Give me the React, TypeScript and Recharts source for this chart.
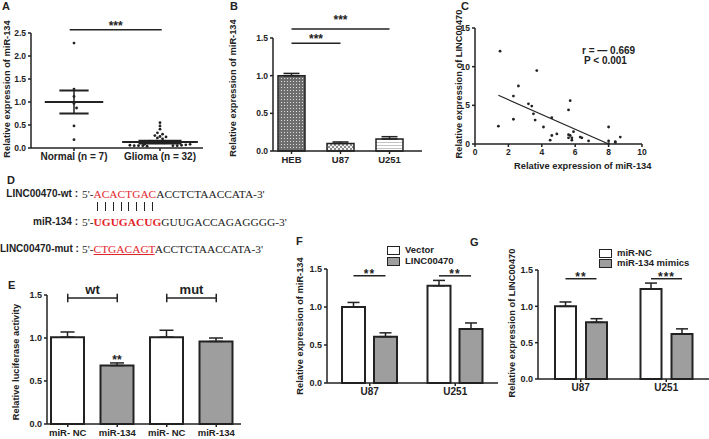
import React from 'react';
import {
  Bar,
  BarChart,
  Cell,
  ErrorBar,
  LabelList,
  ReferenceLine,
  Scatter,
  ScatterChart,
  XAxis,
  YAxis,
} from 'recharts';

const SANS = '"Liberation Sans", Arial, sans-serif';
const SERIF = '"Liberation Serif", "Times New Roman", serif';
const INK = '#222';
const GRAY = '#9e9e9e';
const RED = '#e2252b';

// A: miR-134 in tissue
const aGroups = ['Normal (n = 7)', 'Glioma (n = 32)'];
const aNormal = [
  { x: 0.5, y: 2.28 }, { x: 0.5, y: 1.28 }, { x: 0.5, y: 1.12 }, { x: 0.5, y: 0.97 },
  { x: 0.53, y: 0.87 }, { x: 0.5, y: 0.48 }, { x: 0.5, y: 0.18 },
];
const aGlioma = [
  { x: 1.5, y: 0.55 }, { x: 1.5, y: 0.48 }, { x: 1.5, y: 0.41 }, { x: 1.47, y: 0.33 },
  { x: 1.53, y: 0.3 }, { x: 1.44, y: 0.27 }, { x: 1.5, y: 0.25 }, { x: 1.57, y: 0.24 },
  { x: 1.47, y: 0.22 }, { x: 1.53, y: 0.2 },
  { x: 1.38, y: 0.15 }, { x: 1.42, y: 0.14 }, { x: 1.46, y: 0.15 }, { x: 1.5, y: 0.14 },
  { x: 1.54, y: 0.15 }, { x: 1.58, y: 0.14 }, { x: 1.62, y: 0.13 }, { x: 1.4, y: 0.12 },
  { x: 1.45, y: 0.11 }, { x: 1.55, y: 0.11 }, { x: 1.6, y: 0.12 },
  { x: 1.15, y: 0.06 }, { x: 1.2, y: 0.05 }, { x: 1.25, y: 0.05 }, { x: 1.3, y: 0.05 },
  { x: 1.35, y: 0.04 }, { x: 1.65, y: 0.05 }, { x: 1.7, y: 0.05 }, { x: 1.75, y: 0.06 },
  { x: 1.8, y: 0.07 }, { x: 1.85, y: 0.08 }, { x: 1.32, y: 0.08 },
];
const aMean = [1.0, 0.13];
const aSem = [0.25, 0.03];

// B: cell lines
const bCells = ['HEB', 'U87', 'U251'];
const bMean = [1.0, 0.1, 0.16];
const bSem = [0.03, 0.02, 0.03];

// C: correlation
const cMir = [1.5, 3.7, 2.6, 2.3, 3.2, 3.4, 5.7, 5.6, 3.5, 2.3, 3.6, 4.6, 1.4, 4.1, 8.0, 5.9,
  4.9, 4.6, 5.6, 5.7, 5.8, 5.6, 4.5, 5.8, 6.3, 6.4, 6.8, 8.0, 8.4, 8.4, 8.7, 8.0];
const cLinc = [12.0, 9.5, 7.5, 6.2, 5.2, 4.9, 5.6, 4.4, 3.9, 3.2, 3.1, 3.4, 2.3, 2.2, 2.2, 1.6,
  1.3, 1.1, 1.2, 1.1, 0.8, 0.8, 0.5, 0.5, 0.9, 0.8, 0.4, 0.4, 0.2, 0.3, 0.9, 0.05];
const cFitX = [1.4, 8.0];
const cFitY = [6.3, 0.0];

// D: sequences
const wtSeed = 'ACACTGAC';
const wtRest = 'ACCTCTAACCATA-3\'';
const mirSeed = 'UGUGACUG';
const mirRest = 'GUUGACCAGAGGGG-3\'';
const mutSeed = 'CTGACAGT';
const mutRest = 'ACCTCTAACCATA-3\'';

// E: luciferase
const eKeys = ['wt-NC', 'wt-134', 'mut-NC', 'mut-134'];
const eTicks = ['miR- NC', 'miR-134', 'miR- NC', 'miR-134'];
const eMean = [1.01, 0.68, 1.01, 0.96];
const eSem = [0.06, 0.03, 0.08, 0.04];
const eStars = ['', '**', '', ''];
const eFill = ['#fff', GRAY, '#fff', GRAY];

// F: LINC00470 overexpression
const fCells = ['U87', 'U251'];
const fVector = [1.0, 1.28];
const fVectorSem = [0.06, 0.07];
const fLinc = [0.61, 0.71];
const fLincSem = [0.05, 0.08];
const fStars = ['**', '**'];

// G: miR-134 mimics
const gCells = ['U87', 'U251'];
const gNC = [1.0, 1.24];
const gNCSem = [0.06, 0.08];
const gMimic = [0.78, 0.62];
const gMimicSem = [0.05, 0.07];
const gStars = ['**', '***'];

const axisStyle = { stroke: INK, strokeWidth: 1.5 };
const tickFont = (size: number) => ({ fill: INK, fontSize: size, fontWeight: 700, fontFamily: SANS });
const fmt1 = (v: number) => v.toFixed(1);

const dot = (p: any) => <circle cx={p.cx} cy={p.cy} r={1.4} fill={INK} />;

function Txt({ x, y, size = 10, bold = true, children, style }: any) {
  return (
    <div
      style={{
        position: 'absolute', left: x, top: y - size * 0.6, fontSize: size, lineHeight: 1.2,
        fontWeight: bold ? 700 : 400, fontFamily: SANS, color: INK, whiteSpace: 'pre', ...style,
      }}
    >
      {children}
    </div>
  );
}

function VLabel({ cx, cy, size = 9.3, children }: any) {
  return (
    <div
      style={{
        position: 'absolute', left: cx, top: cy, transform: 'translate(-50%, -50%) rotate(-90deg)',
        fontSize: size, fontWeight: 700, fontFamily: SANS, color: INK, whiteSpace: 'nowrap', lineHeight: 1,
      }}
    >
      {children}
    </div>
  );
}

function Box({ x, y, children }: any) {
  return <div style={{ position: 'absolute', left: x, top: y }}>{children}</div>;
}

function sigPair(stars: string[], level: number, gap: number) {
  return (p: any) => {
    const vb = p.viewBox && p.viewBox.width != null ? p.viewBox : p;
    const { x, y, width, height } = vb;
    const value = Number(p.value);
    if (!value || !stars[p.index]) return null;
    const ppu = height / value;
    const yy = y + height - level * ppu;
    const x1 = x + width / 2;
    const x2 = x1 + width + gap;
    return (
      <g key={`sig-${p.index}`}>
        <line x1={x1} x2={x2} y1={yy} y2={yy} stroke={INK} strokeWidth={1.5} />
        <text x={(x1 + x2) / 2} y={yy + 2} textAnchor="middle" fontSize={12} fontWeight={700}
          fontFamily={SANS} fill={INK} letterSpacing={1}>
          {stars[p.index]}
        </text>
      </g>
    );
  };
}

function PanelA() {
  const meanHalf = [0.34, 0.44];
  const semHalf = [0.17, 0.25];
  const centers = [0.5, 1.5];
  return (
    <ScatterChart width={215} height={175} margin={{ top: 33, right: 12, bottom: 7, left: 11 }}>
      <XAxis type="number" dataKey="x" domain={[0, 2]} ticks={centers} interval={0}
        tickFormatter={(v) => aGroups[Math.floor(v)]} height={20} axisLine={axisStyle}
        tickLine={axisStyle} tickSize={3} tick={tickFont(10)} />
      <YAxis type="number" dataKey="y" domain={[0, 2.5]} ticks={[0, 0.5, 1, 1.5, 2, 2.5]}
        tickFormatter={fmt1} width={20} axisLine={axisStyle} tickLine={axisStyle} tickSize={3}
        tick={tickFont(8.5)} />
      {centers.map((c, i) => (
        <ReferenceLine key={`m${i}`} ifOverflow="visible" stroke={INK} strokeWidth={2}
          segment={[{ x: c - meanHalf[i], y: aMean[i] }, { x: c + meanHalf[i], y: aMean[i] }]} />
      ))}
      {centers.map((c, i) => (
        <ReferenceLine key={`hi${i}`} ifOverflow="visible" stroke={INK} strokeWidth={2}
          segment={[{ x: c - semHalf[i], y: aMean[i] + aSem[i] }, { x: c + semHalf[i], y: aMean[i] + aSem[i] }]} />
      ))}
      {centers.map((c, i) => (
        <ReferenceLine key={`lo${i}`} ifOverflow="visible" stroke={INK} strokeWidth={2}
          segment={[{ x: c - semHalf[i], y: aMean[i] - aSem[i] }, { x: c + semHalf[i], y: aMean[i] - aSem[i] }]} />
      ))}
      {centers.map((c, i) => (
        <ReferenceLine key={`v${i}`} ifOverflow="visible" stroke={INK} strokeWidth={1.5}
          segment={[{ x: c, y: aMean[i] - aSem[i] }, { x: c, y: aMean[i] + aSem[i] }]} />
      ))}
      <ReferenceLine ifOverflow="visible" stroke={INK} strokeWidth={1.5}
        segment={[{ x: 0.45, y: 2.57 }, { x: 1.52, y: 2.57 }]}
        label={{ value: '***', position: 'top', offset: 0, fill: INK, fontSize: 12, fontWeight: 700, fontFamily: SANS }} />
      <Scatter data={aNormal} shape={dot} isAnimationActive={false} />
      <Scatter data={aGlioma} shape={dot} isAnimationActive={false} />
    </ScatterChart>
  );
}

function PanelB() {
  const data = bCells.map((c, i) => ({ cell: c, v: bMean[i], e: [0, bSem[i]] }));
  const fills = ['url(#pHEB)', 'url(#pU87)', 'url(#pU251)'];
  const starLabel = (offset: number) => ({
    value: '***', position: 'top' as const, offset, fill: INK, fontSize: 12, fontWeight: 700, fontFamily: SANS,
  });
  return (
    <BarChart width={200} height={175} data={data} margin={{ top: 38, right: 8, bottom: 4, left: 18 }}>
      <defs>
        <pattern id="pHEB" width="3" height="3" patternUnits="userSpaceOnUse">
          <rect width="3" height="3" fill="#6e6e6e" />
          <rect width="1" height="1" fill="#dcdcdc" />
        </pattern>
        <pattern id="pU87" width="4" height="4" patternUnits="userSpaceOnUse">
          <rect width="4" height="4" fill="#f2f2f2" />
          <rect width="2" height="2" fill="#8c8c8c" />
          <rect x="2" y="2" width="2" height="2" fill="#8c8c8c" />
        </pattern>
        <pattern id="pU251" width="4" height="3" patternUnits="userSpaceOnUse">
          <rect width="4" height="3" fill="#fff" />
          <rect y="1" width="4" height="1" fill="#c4c4c4" />
        </pattern>
      </defs>
      <XAxis dataKey="cell" height={20} padding={{ left: -6, right: 8 }} axisLine={axisStyle}
        tickLine={axisStyle} tickSize={3} tick={tickFont(9.5)} />
      <YAxis domain={[0, 1.5]} ticks={[0, 0.5, 1, 1.5]} tickFormatter={fmt1} width={25}
        axisLine={axisStyle} tickLine={axisStyle} tickSize={3} tick={tickFont(8.5)} />
      <ReferenceLine ifOverflow="visible" stroke={INK} strokeWidth={1.5}
        segment={[{ x: 'HEB', y: 1.43 }, { x: 'U87', y: 1.43 }]} label={starLabel(0)} />
      <ReferenceLine ifOverflow="visible" stroke={INK} strokeWidth={1.5}
        segment={[{ x: 'HEB', y: 1.62 }, { x: 'U251', y: 1.62 }]} label={starLabel(5)} />
      <Bar dataKey="v" barSize={27} stroke={INK} strokeWidth={1.5} isAnimationActive={false}>
        {data.map((d, i) => <Cell key={d.cell} fill={fills[i]} />)}
        <ErrorBar dataKey="e" width={8} stroke={INK} strokeWidth={1.5} direction="y" />
      </Bar>
    </BarChart>
  );
}

function PanelC() {
  const pts = cMir.map((x, i) => ({ x, y: cLinc[i] }));
  return (
    <ScatterChart width={200} height={178} margin={{ top: 28, right: 18, bottom: 14, left: 2 }}>
      <XAxis type="number" dataKey="x" domain={[0, 10]} ticks={[0, 2, 4, 6, 8, 10]} interval={0}
        height={20} axisLine={axisStyle} tickLine={axisStyle} tickSize={3} tick={tickFont(8.5)} />
      <YAxis type="number" dataKey="y" domain={[0, 15]} ticks={[0, 5, 10, 15]} width={13}
        axisLine={axisStyle} tickLine={axisStyle} tickSize={3} tick={tickFont(8.5)} />
      <ReferenceLine ifOverflow="visible" stroke={INK} strokeWidth={1.2}
        segment={[{ x: cFitX[0], y: cFitY[0] }, { x: cFitX[1], y: cFitY[1] }]} />
      <Scatter data={pts} shape={dot} isAnimationActive={false} />
    </ScatterChart>
  );
}

function Sequence({ x, y, seed, rest, seedStyle }: any) {
  return (
    <div style={{ position: 'absolute', left: x, top: y, fontFamily: SERIF, fontSize: 11.4, lineHeight: '12px', color: INK, whiteSpace: 'pre' }}>
      {'5\'-'}
      <span style={{ color: RED, ...seedStyle }}>{seed}</span>
      {rest}
    </div>
  );
}

function PairMarks({ x, y, seed }: any) {
  // one short stroke under each paired base, aligned to the letters of the seed
  return (
    <div style={{ position: 'absolute', left: x, top: y, fontFamily: SERIF, fontSize: 11.4, lineHeight: '10px', color: 'transparent', whiteSpace: 'pre' }}>
      <span aria-hidden>{'5\'-'}</span>
      {seed.split('').map((ch: string, i: number) => (
        <span key={i} aria-hidden style={{ position: 'relative', display: 'inline-block' }}>
          {ch}
          <span style={{ position: 'absolute', left: '50%', top: 0, width: 1.2, height: 9, marginLeft: -0.6, background: INK }} />
        </span>
      ))}
    </div>
  );
}

function PanelD() {
  const lbl = { position: 'absolute' as const, left: 0, width: 78, textAlign: 'right' as const, fontFamily: SANS, fontWeight: 700, fontSize: 10, lineHeight: '12px', color: INK, whiteSpace: 'pre' as const };
  return (
    <>
      <div style={{ ...lbl, top: 188 }}>LINC00470-wt :</div>
      <Sequence x={82} y={188} seed={wtSeed} rest={wtRest} />
      <PairMarks x={82} y={202} seed={wtSeed} />
      <div style={{ ...lbl, top: 216 }}>miR-134 :</div>
      <Sequence x={82} y={216} seed={mirSeed} rest={mirRest} seedStyle={{ fontWeight: 700 }} />
      <div style={{ ...lbl, top: 243 }}>LINC00470-mut :</div>
      <Sequence x={82} y={243} seed={mutSeed} rest={mutRest} seedStyle={{ textDecoration: 'underline' }} />
    </>
  );
}

function PanelE() {
  const data = eKeys.map((k, i) => ({ k, v: eMean[i], e: [0, eSem[i]], star: eStars[i] }));
  const brLabel = (value: string) => ({ value, position: 'top' as const, offset: 4, fill: INK, fontSize: 13, fontWeight: 700, fontFamily: SANS });
  const bracket = (a: string, b: string, text: string) => [
    <ReferenceLine key={`${a}h`} ifOverflow="visible" stroke={INK} strokeWidth={1.5}
      segment={[{ x: a, y: 1.465 }, { x: b, y: 1.465 }]} label={brLabel(text)} />,
    <ReferenceLine key={`${a}l`} ifOverflow="visible" stroke={INK} strokeWidth={1.5}
      segment={[{ x: a, y: 1.415 }, { x: a, y: 1.515 }]} />,
    <ReferenceLine key={`${a}r`} ifOverflow="visible" stroke={INK} strokeWidth={1.5}
      segment={[{ x: b, y: 1.415 }, { x: b, y: 1.515 }]} />,
  ];
  return (
    <BarChart width={250} height={159} data={data} margin={{ top: 15, right: 9, bottom: 0, left: 25 }}>
      <XAxis dataKey="k" height={15} padding={{ left: -4, right: 0 }} interval={0}
        tickFormatter={(_v, i) => eTicks[i]} axisLine={axisStyle} tickLine={axisStyle} tickSize={3}
        tick={tickFont(9.5)} />
      <YAxis domain={[0, 1.5]} ticks={[0, 0.5, 1, 1.5]} tickFormatter={fmt1} width={22}
        axisLine={axisStyle} tickLine={axisStyle} tickSize={3} tick={tickFont(9)} />
      {bracket('wt-NC', 'wt-134', 'wt')}
      {bracket('mut-NC', 'mut-134', 'mut')}
      <Bar dataKey="v" barSize={33} stroke={INK} strokeWidth={2} isAnimationActive={false}>
        {data.map((d, i) => <Cell key={d.k} fill={eFill[i]} />)}
        <ErrorBar dataKey="e" width={7} stroke={INK} strokeWidth={1.5} direction="y" />
        <LabelList dataKey="star" position="top" offset={2} fill={INK} fontSize={12} fontWeight={700} fontFamily={SANS} />
      </Bar>
    </BarChart>
  );
}

function PairChart({ width, height, margin, cells, a, aSem, b, bSem, stars, level, size, gap, xh }: any) {
  const data = cells.map((c: string, i: number) => ({ c, a: a[i], ae: [0, aSem[i]], b: b[i], be: [0, bSem[i]] }));
  return (
    <BarChart width={width} height={height} data={data} margin={margin} barGap={gap}>
      <XAxis dataKey="c" height={xh} axisLine={axisStyle} tickLine={axisStyle} tickSize={3} tick={tickFont(10)} />
      <YAxis domain={[0, 1.5]} ticks={[0, 0.5, 1, 1.5]} tickFormatter={fmt1} width={22}
        axisLine={axisStyle} tickLine={axisStyle} tickSize={3} tick={tickFont(9)} />
      <Bar dataKey="a" barSize={size} fill="#fff" stroke={INK} strokeWidth={2} isAnimationActive={false}>
        <ErrorBar dataKey="ae" width={6} stroke={INK} strokeWidth={1.5} direction="y" />
        <LabelList content={sigPair(stars, level, gap)} />
      </Bar>
      <Bar dataKey="b" barSize={size} fill={GRAY} stroke={INK} strokeWidth={2} isAnimationActive={false}>
        <ErrorBar dataKey="be" width={6} stroke={INK} strokeWidth={1.5} direction="y" />
      </Bar>
    </BarChart>
  );
}

function Legend({ x, y, items, gap }: any) {
  return (
    <>
      {items.map((t: string, i: number) => (
        <div key={t} style={{ position: 'absolute', left: x, top: y + i * gap, display: 'flex', alignItems: 'center' }}>
          <div style={{ width: 11, height: 7, border: `1.5px solid ${INK}`, background: i === 0 ? '#fff' : GRAY }} />
          <span style={{ marginLeft: 5, fontFamily: SANS, fontWeight: 700, fontSize: 9.5, color: INK, lineHeight: '10px' }}>{t}</span>
        </div>
      ))}
    </>
  );
}

export default function App() {
  return (
    <div style={{ position: 'absolute', left: 0, top: 0, width: 709, height: 439, background: '#fff', overflow: 'hidden', fontFamily: SANS }}>
      <Txt x={2} y={7} size={11}>A</Txt>
      <Txt x={230} y={7} size={11}>B</Txt>
      <Txt x={461} y={7} size={11}>C</Txt>
      <Txt x={7} y={181} size={11}>D</Txt>
      <Txt x={8} y={286} size={11}>E</Txt>
      <Txt x={296} y={242} size={11}>F</Txt>
      <Txt x={470} y={243} size={11}>G</Txt>

      <Box x={0} y={0}><PanelA /></Box>
      <VLabel cx={8} cy={89}>Relative expression of miR-134</VLabel>

      <Box x={230} y={0}><PanelB /></Box>
      <VLabel cx={234} cy={88}>Relative expression of miR-134</VLabel>

      <Box x={460} y={0}><PanelC /></Box>
      <VLabel cx={460} cy={84}>Relative expression of LINC00470</VLabel>
      <Txt x={514} y={167} size={9.3}>Relative expression of miR-134</Txt>
      <Txt x={582} y={51} size={10}>r = — 0.669</Txt>
      <Txt x={584} y={61} size={10}>P &lt; 0.001</Txt>

      <PanelD />

      <Box x={0} y={280}><PanelE /></Box>
      <VLabel cx={17} cy={362}>Relative luciferase activity</VLabel>

      <Box x={300} y={240}>
        <PairChart width={200} height={160} margin={{ top: 29, right: 2, bottom: 0, left: 5 }} xh={17}
          cells={fCells} a={fVector} aSem={fVectorSem} b={fLinc} bSem={fLincSem} stars={fStars}
          level={1.41} size={23} gap={9} />
      </Box>
      <VLabel cx={301} cy={326}>Relative expression of miR-134</VLabel>
      <Legend x={387} y={245} gap={11} items={['Vector', 'LINC00470']} />

      <Box x={510} y={240}>
        <PairChart width={199} height={155} margin={{ top: 30, right: 0, bottom: 0, left: 6 }} xh={16}
          cells={gCells} a={gNC} aSem={gNCSem} b={gMimic} bSem={gMimicSem} stars={gStars}
          level={1.38} size={21} gap={10} />
      </Box>
      <VLabel cx={513} cy={323}>Relative expression of LINC00470</VLabel>
      <Legend x={599} y={248} gap={10} items={['miR-NC', 'miR-134 mimics']} />
    </div>
  );
}
